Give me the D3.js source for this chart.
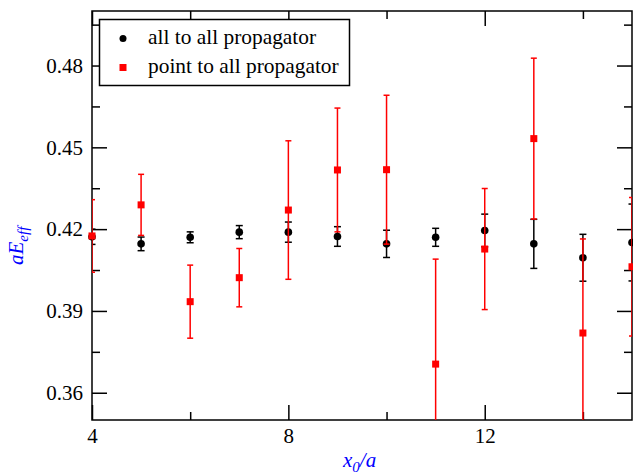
<!DOCTYPE html>
<html>
<head>
<meta charset="utf-8">
<script src="https://cdn.jsdelivr.net/npm/d3@7"></script>
<style>
body { margin: 0; background: #fff; }
svg text { font-family: 'Liberation Serif', 'Tinos', 'Times New Roman', 'DejaVu Serif', serif; }
</style>
</head>
<body>
<script>
// x0/a values
var slices = [4, 5, 6, 7, 8, 9, 10, 11, 12, 13, 14, 15];

// all to all propagator
var allVal = [0.4172, 0.4146, 0.4170, 0.4189, 0.4189, 0.4173, 0.4146, 0.4170, 0.4195, 0.4146, 0.4095, 0.4151];
var allErr = [0.0028, 0.0025, 0.0020, 0.0024, 0.0037, 0.0036, 0.0050, 0.0033, 0.0060, 0.0090, 0.0086, 0.0141];

// point to all propagator
var ptVal = [0.4175, 0.4289, 0.3934, 0.4022, 0.4270, 0.4417, 0.4418, 0.3705, 0.4127, 0.4532, 0.3819, 0.4062];
var ptErr = [0.0133, 0.0112, 0.0134, 0.0107, 0.0254, 0.0227, 0.0273, 0.0385, 0.0222, 0.0295, 0.0345, 0.0254];

var xMajor = [4, 8, 12],
    xMinor = [6, 10, 14],
    yMajor = [0.36, 0.39, 0.42, 0.45, 0.48],
    yMinor = [0.375, 0.405, 0.435, 0.465, 0.495];

var legendLabels = ['all to all propagator', 'point to all propagator'];

var width = 633, height = 474;
var m = {left: 92, top: 11, right: 1, bottom: 54};
var w = width - m.left - m.right,
    h = height - m.top - m.bottom;

var svg = d3.select('body').append('svg')
    .attr('width', width)
    .attr('height', height);

var x = d3.scaleLinear().domain([4, 15]).range([0, w]);
var y = d3.scaleLinear().domain([0.35, 0.50]).range([h, 0]);

var g = svg.append('g').attr('transform', 'translate(' + m.left + ',' + m.top + ')');

svg.append('defs').append('clipPath').attr('id', 'clip')
    .append('rect').attr('width', w).attr('height', h);

// axes: inward ticks on all sides
function styleAxis(sel) {
    sel.attr('font-family', null).attr('font-size', null);
    sel.select('.domain').remove();
    sel.selectAll('line').attr('stroke', '#000').attr('stroke-width', 1.5);
    sel.selectAll('text').attr('fill', '#000').style('font-size', '21px');
}

g.append('g').attr('transform', 'translate(0,' + h + ')')
    .call(d3.axisBottom(x).tickValues(xMajor).tickSize(-15).tickPadding(8).tickFormat(d3.format('d')))
    .call(styleAxis);
g.append('g').attr('transform', 'translate(0,' + h + ')')
    .call(d3.axisBottom(x).tickValues(xMinor).tickSize(-8).tickFormat(''))
    .call(styleAxis);
g.append('g')
    .call(d3.axisTop(x).tickValues(xMajor).tickSize(-15).tickFormat(''))
    .call(styleAxis);
g.append('g')
    .call(d3.axisTop(x).tickValues(xMinor).tickSize(-8).tickFormat(''))
    .call(styleAxis);

g.append('g')
    .call(d3.axisLeft(y).tickValues(yMajor).tickSize(-15).tickPadding(9).tickFormat(d3.format('.2f')))
    .call(styleAxis);
g.append('g')
    .call(d3.axisLeft(y).tickValues(yMinor).tickSize(-8).tickFormat(''))
    .call(styleAxis);
g.append('g').attr('transform', 'translate(' + w + ',0)')
    .call(d3.axisRight(y).tickValues(yMajor).tickSize(-15).tickFormat(''))
    .call(styleAxis);
g.append('g').attr('transform', 'translate(' + w + ',0)')
    .call(d3.axisRight(y).tickValues(yMinor).tickSize(-8).tickFormat(''))
    .call(styleAxis);

g.append('rect')
    .attr('width', w).attr('height', h)
    .attr('fill', 'none').attr('stroke', '#000').attr('stroke-width', 1.5);

// error bars
function errorBars(vals, errs, color, cap) {
    var eg = g.append('g').attr('clip-path', 'url(#clip)')
        .attr('stroke', color).attr('stroke-width', 1.5);
    var bars = eg.selectAll('g').data(slices).enter().append('g');
    bars.append('line')
        .attr('x1', d => x(d)).attr('x2', d => x(d))
        .attr('y1', (d, i) => y(vals[i] - errs[i]))
        .attr('y2', (d, i) => y(vals[i] + errs[i]));
    [-1, 1].forEach(function(s) {
        bars.append('line')
            .attr('x1', d => x(d) - cap).attr('x2', d => x(d) + cap)
            .attr('y1', (d, i) => y(vals[i] + s * errs[i]))
            .attr('y2', (d, i) => y(vals[i] + s * errs[i]));
    });
}

errorBars(allVal, allErr, '#000', 3.5);
g.append('g').selectAll('circle').data(slices).enter().append('circle')
    .attr('cx', d => x(d)).attr('cy', (d, i) => y(allVal[i]))
    .attr('r', 3.8).attr('fill', '#000');

errorBars(ptVal, ptErr, '#ff0000', 3);
g.append('g').selectAll('rect').data(slices).enter().append('rect')
    .attr('x', d => x(d) - 3.5).attr('y', (d, i) => y(ptVal[i]) - 3.5)
    .attr('width', 7).attr('height', 7).attr('fill', '#ff0000');

// legend
var lg = svg.append('g');
lg.append('rect')
    .attr('x', 99.5).attr('y', 19.5).attr('width', 250).attr('height', 66)
    .attr('fill', '#fff').attr('stroke', '#000').attr('stroke-width', 1.5);
lg.append('circle').attr('cx', 123).attr('cy', 38.5).attr('r', 3.5).attr('fill', '#000');
lg.append('rect').attr('x', 119.5).attr('y', 64).attr('width', 7).attr('height', 7).attr('fill', '#ff0000');
lg.selectAll('text').data(legendLabels).enter().append('text')
    .attr('x', 148).attr('y', (d, i) => 44 + i * 29)
    .style('font-size', '21.4px')
    .text(d => d);

// axis titles
var xt = svg.append('text')
    .attr('x', 343).attr('y', 467)
    .attr('fill', '#0000ff')
    .style('font-size', '21px').style('font-style', 'italic');
xt.append('tspan').text('x');
xt.append('tspan').attr('dy', 5).style('font-size', '15px').text('0');
xt.append('tspan').attr('dy', -5).text('/a');

var yt = svg.append('text')
    .attr('transform', 'translate(23,265) rotate(-90)')
    .attr('fill', '#0000ff')
    .style('font-size', '21px').style('font-style', 'italic');
yt.append('tspan').text('aE');
yt.append('tspan').attr('dy', 5).style('font-size', '15px').text('eff');
</script>
</body>
</html>
